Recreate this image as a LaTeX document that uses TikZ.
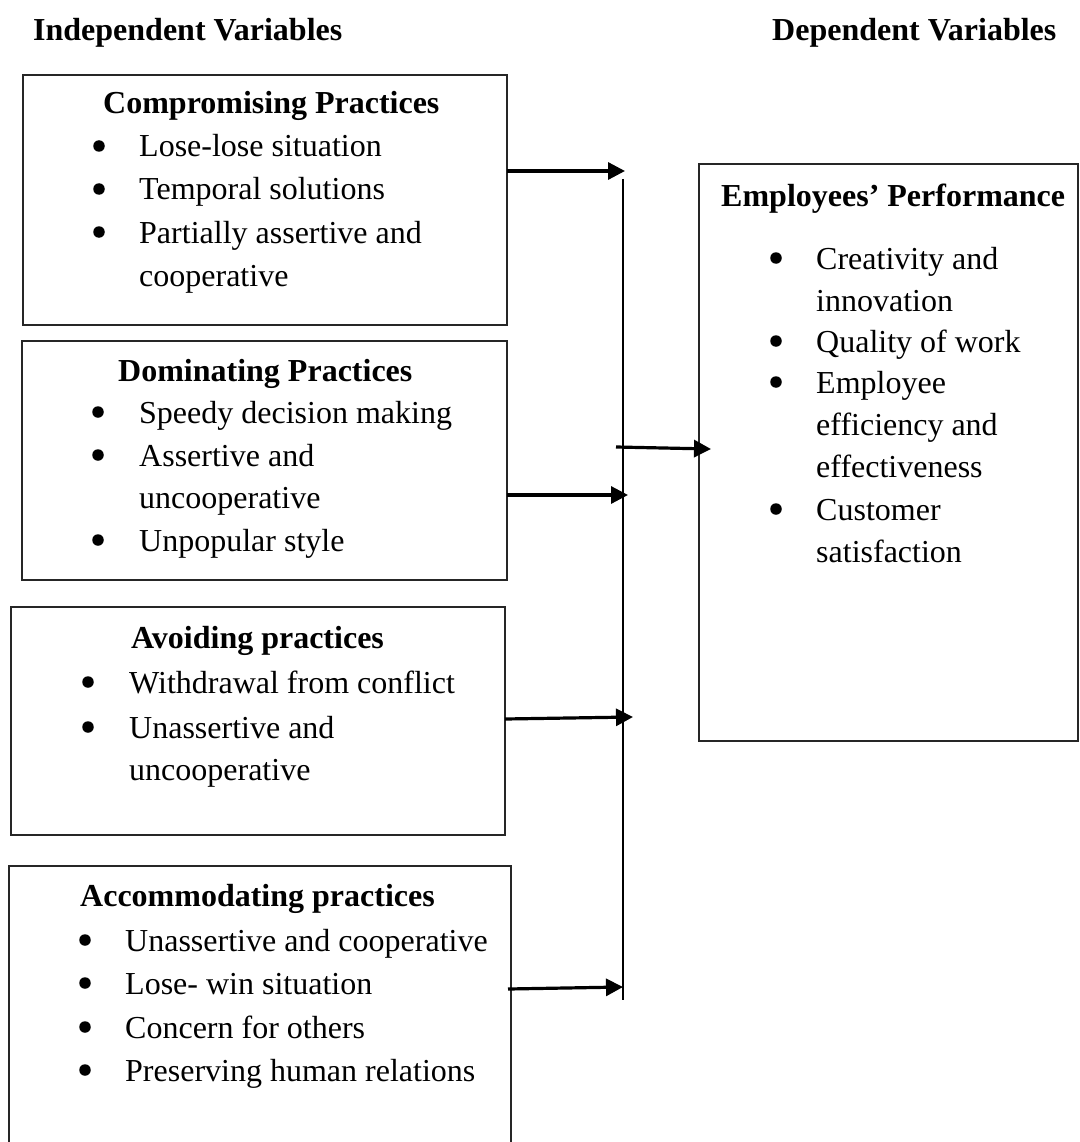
\documentclass[tikz,border=0pt]{standalone}
\usepackage{fontspec}
\setmainfont{Liberation Serif}
\usetikzlibrary{arrows.meta}
\begin{document}
\begin{tikzpicture}[x=1pt,y=-1pt,
  box/.style={draw=black!85, line width=1.4pt, inner sep=0pt, outer sep=0pt},
  txt/.style={anchor=base west, inner sep=0pt, font=\fontsize{32}{40}\selectfont},
  hd/.style={anchor=base west, inner sep=0pt, font=\fontsize{32}{40}\selectfont\bfseries},
  bul/.style={circle, fill=black, inner sep=0pt, minimum size=11.5pt},
  arr/.style={line width=3.2pt, -{Triangle[length=17pt,width=17pt]}},
  bus/.style={line width=1.5pt}]
\useasboundingbox (0,0) rectangle (1079,1142);
\clip (0,0) rectangle (1079,1142);
\fill[white] (0,0) rectangle (1079,1142);

% titles
\node[hd] (ti) at (33,41) {Independent Variables};
\node[hd] (td) at (772,41) {Dependent Variables};

% boxes
\node[box, minimum width=484pt, minimum height=250pt] (b1) at (265,200) {};
\node[box, minimum width=485pt, minimum height=239pt] (b2) at (264.5,460.5) {};
\node[box, minimum width=494pt, minimum height=228pt] (b3) at (258,721) {};
\node[box, minimum width=502pt, minimum height=294pt] (b4) at (260,1013) {};
\node[box, minimum width=379pt, minimum height=577pt] (r) at (888.5,452.5) {};

% box 1
\node[hd] (h1) at (103,114) {Compromising Practices};
\node[bul] (p11) at (99,146) {};
\node[txt] (l11) at (139,157) {Lose-lose situation};
\node[bul] (p12) at (99,189) {};
\node[txt] (l12) at (139,200) {Temporal solutions};
\node[bul] (p13) at (99,232) {};
\node[txt] (l13) at (139,243) {Partially assertive and};
\node[txt] (l14) at (139,286) {cooperative};

% box 2
\node[hd] (h2) at (118,381) {Dominating Practices};
\node[bul] (p21) at (98,412) {};
\node[txt] (l21) at (139,423) {Speedy decision making};
\node[bul] (p22) at (98,455) {};
\node[txt] (l22) at (139,466) {Assertive and};
\node[txt] (l23) at (139,508) {uncooperative};
\node[bul] (p24) at (98,540) {};
\node[txt] (l24) at (139,551) {Unpopular style};

% box 3
\node[hd] (h3) at (131,648) {Avoiding practices};
\node[bul] (p31) at (88,682) {};
\node[txt] (l31) at (129,693) {Withdrawal from conflict};
\node[bul] (p32) at (88,727) {};
\node[txt] (l32) at (129,738) {Unassertive and};
\node[txt] (l33) at (129,780) {uncooperative};

% box 4
\node[hd] (h4) at (80,906) {Accommodating practices};
\node[bul] (p41) at (85,940) {};
\node[txt] (l41) at (125,951) {Unassertive and cooperative};
\node[bul] (p42) at (85,983) {};
\node[txt] (l42) at (125,994) {Lose- win situation};
\node[bul] (p43) at (85,1027) {};
\node[txt] (l43) at (125,1038) {Concern for others};
\node[bul] (p44) at (85,1070) {};
\node[txt] (l44) at (125,1081) {Preserving human relations};

% right box
\node[hd] (hr) at (721,207) {Employees’ Performance};
\node[bul] (q1) at (776,258) {};
\node[txt] (r1) at (816,269) {Creativity and};
\node[txt] (r2) at (816,311) {innovation};
\node[bul] (q3) at (776,341) {};
\node[txt] (r3) at (816,352) {Quality of work};
\node[bul] (q4) at (776,382) {};
\node[txt] (r4) at (816,393) {Employee};
\node[txt] (r5) at (816,435) {efficiency and};
\node[txt] (r6) at (816,477) {effectiveness};
\node[bul] (q7) at (776,509) {};
\node[txt] (r7) at (816,520) {Customer};
\node[txt] (r8) at (816,562) {satisfaction};

% bus line
\coordinate (bt) at (623,179);
\coordinate (bb) at (623,1000);
\draw[bus] (bt) -- (bb);

% arrows
\coordinate (t1) at (625,171);
\coordinate (t2) at (628,495);
\coordinate (t3) at (633,717);
\coordinate (t4) at (623,987);
\coordinate (s3) at (505,719);
\coordinate (s4) at (508,989);
\draw[arr] (b1.east |- t1) -- (t1);
\draw[arr] (b2.east |- t2) -- (t2);
\draw[arr] (s3) -- (t3);
\draw[arr] (s4) -- (t4);
\coordinate (m0) at (616,447);
\coordinate (m1) at (711,449);
\draw[arr] (m0) -- (m1);
\end{tikzpicture}
\end{document}
